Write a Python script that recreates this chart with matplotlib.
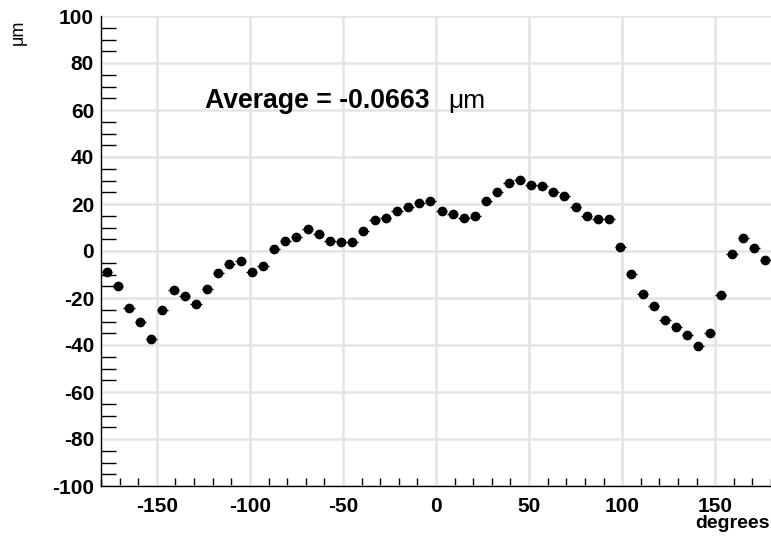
import matplotlib
matplotlib.use("Agg")
import matplotlib.pyplot as plt
from matplotlib.ticker import MultipleLocator, FuncFormatter

plt.rcParams['font.family'] = ['Liberation Sans', 'DejaVu Sans']

# bin centres (degrees) and residuals (um)
angle = list(range(-177, 180, 6))
resid = [-9.1, -15.0, -24.2, -30.2, -37.5, -25.2, -16.7, -19.0, -22.5, -16.0,
         -9.2, -5.5, -4.4, -9.1, -6.2, 0.7, 4.3, 6.0, 9.3, 7.3,
         4.2, 3.8, 4.0, 8.6, 13.0, 14.0, 17.0, 18.6, 20.3, 21.1,
         17.0, 15.7, 14.0, 14.7, 21.3, 25.1, 29.0, 30.4, 28.1, 27.8,
         25.3, 23.2, 18.7, 14.7, 13.7, 13.6, 1.6, -9.6, -18.1, -23.3,
         -29.4, -32.4, -35.7, -40.5, -34.8, -18.6, -1.4, 5.4, 1.3, -3.7]
half_bin = 3
average_text = "Average = -0.0663"

fig = plt.figure(figsize=(7.71, 5.36), dpi=100)
ax = fig.add_axes([101/771, 50/536, 670/771, 470/536])

ax.errorbar(angle, resid, xerr=half_bin, fmt='o', color='black',
            ms=6, elinewidth=1, capsize=0, zorder=3)

ax.set_xlim(-180, 180)
ax.set_ylim(-100, 100)

ax.xaxis.set_major_locator(MultipleLocator(50))
ax.xaxis.set_minor_locator(MultipleLocator(10))
ax.yaxis.set_major_locator(MultipleLocator(20))
ax.yaxis.set_minor_locator(MultipleLocator(5))
fmt = FuncFormatter(lambda v, p: f"{v:.0f}".replace('\u2212', '-'))
ax.xaxis.set_major_formatter(fmt)
ax.yaxis.set_major_formatter(fmt)

ax.grid(True, which='major', color='#e4e4e4', lw=1.8)
ax.set_axisbelow(True)

for s in ['top', 'right']:
    ax.spines[s].set_visible(False)
for s in ['left', 'bottom']:
    ax.spines[s].set_linewidth(1.0)

ax.tick_params(which='both', direction='in', top=False, right=False)
ax.tick_params(which='major', length=0)
ax.tick_params(axis='y', which='minor', length=11, width=1)
ax.tick_params(axis='x', which='minor', length=6, width=1)
ax.tick_params(axis='y', which='major', pad=5)
ax.tick_params(axis='x', which='major', pad=8)
for lab in ax.get_xticklabels() + ax.get_yticklabels():
    lab.set_fontsize(15)
    lab.set_fontweight('bold')

ax.text((205-101)/670, (486-101)/470, average_text, transform=ax.transAxes,
        fontsize=19.2, fontweight='bold', va='center', ha='left')
ax.text((448-101)/670, (486-101)/470, "\u03bcm", transform=ax.transAxes,
        fontsize=19, va='center', ha='left')

fig.text(18/771, 1 - 32/536, "\u03bcm", rotation=90, fontsize=13,
         ha='center', va='center')
fig.text(770/771, 1 - 523/536, "degrees", fontsize=14, fontweight='bold',
         ha='right', va='center')

fig.savefig("out.png", dpi=100)
